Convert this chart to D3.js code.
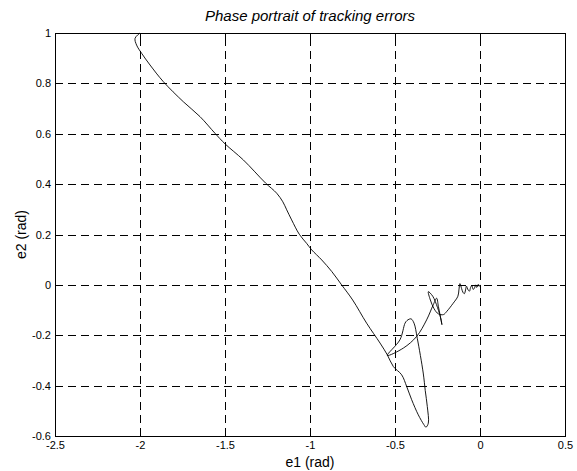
<!DOCTYPE html>
<html>
<head>
<meta charset="utf-8">
<script src="https://cdn.jsdelivr.net/npm/d3@7"></script>
<style>
  body { margin: 0; background: #fff; }
  text { font-family: Arial, 'Liberation Sans', sans-serif; fill: #000; }
</style>
</head>
<body>
<div id="chart"></div>
<script>
// tracking errors
const e1 = [
  -2.00, -2.029, -2.02, -1.99, -1.941, -1.863, -1.745, -1.647, -1.559, -1.50,
  -1.392, -1.261, -1.196, -1.160, -1.137, -1.108, -1.063, -1.020, -0.990, -0.931,
  -0.872, -0.814, -0.749, -0.667, -0.588, -0.545, -0.510, -0.461, -0.431, -0.402,
  -0.363, -0.330, -0.318, -0.304, -0.310, -0.322, -0.334, -0.369, -0.388, -0.405,
  -0.416, -0.430, -0.441, -0.471, -0.545, -0.451, -0.373, -0.314, -0.275, -0.255,
  -0.245, -0.232, -0.224, -0.230, -0.250, -0.278, -0.304, -0.292, -0.270, -0.245,
  -0.215, -0.195, -0.160, -0.130, -0.124, -0.118, -0.108, -0.100, -0.092, -0.085,
  -0.080, -0.070, -0.062, -0.055, -0.048, -0.040, -0.032, -0.026, -0.020, -0.014,
  -0.010, -0.005, 0.000
]
const e2 = [
  1.00, 0.979, 0.952, 0.919, 0.873, 0.807, 0.727, 0.668, 0.602, 0.56,
  0.496, 0.404, 0.364, 0.330, 0.298, 0.258, 0.201, 0.165, 0.139, 0.099,
  0.053, 0.000, -0.060, -0.152, -0.231, -0.278, -0.324, -0.357, -0.404, -0.456,
  -0.516, -0.555, -0.565, -0.549, -0.483, -0.420, -0.350, -0.212, -0.152, -0.135,
  -0.136, -0.142, -0.152, -0.218, -0.280, -0.251, -0.205, -0.139, -0.079, -0.053,
  -0.085, -0.130, -0.158, -0.135, -0.090, -0.045, -0.027, -0.060, -0.095, -0.115,
  -0.118, -0.105, -0.075, -0.045, -0.020, 0.005, -0.015, -0.030, -0.035, -0.020,
  -0.005, -0.020, -0.025, -0.010, -0.003, -0.018, -0.012, 0.000, -0.010, -0.005,
  0.002, -0.006, 0.000
]

const xTicks = [-2.5, -2, -1.5, -1, -0.5, 0, 0.5]
const yTicks = [-0.6, -0.4, -0.2, 0, 0.2, 0.4, 0.6, 0.8, 1]

const margin = { top: 33, right: 12, bottom: 35, left: 55 }
const width = 577 - margin.left - margin.right
const height = 471 - margin.top - margin.bottom

const svg = d3.select('#chart')
  .append('svg')
  .attr('width', 577)
  .attr('height', 471)

const g = svg.append('g')
  .attr('transform', 'translate(' + margin.left + ',' + margin.top + ')')

const x = d3.scaleLinear().domain([-2.5, 0.5]).range([0, width])
const y = d3.scaleLinear().domain([-0.6, 1]).range([height, 0])

// dashed grid
g.append('g')
  .attr('class', 'grid')
  .attr('transform', 'translate(0,' + height + ')')
  .call(d3.axisBottom(x).tickValues(xTicks.slice(1, -1)).tickSize(-height).tickFormat(''))
g.append('g')
  .attr('class', 'grid')
  .call(d3.axisLeft(y).tickValues(yTicks.slice(1, -1)).tickSize(-width).tickFormat(''))
g.selectAll('.grid .domain').remove()
g.selectAll('.grid line')
  .attr('stroke', '#000')
  .attr('stroke-width', 1)
  .attr('stroke-dasharray', '8,5')
  .attr('shape-rendering', 'crispEdges')

// the trajectory
const pts = e1.map((d, i) => [d, e2[i]])
g.append('path')
  .datum(pts)
  .attr('fill', 'none')
  .attr('stroke', '#000')
  .attr('stroke-width', 0.9)
  .attr('stroke-linejoin', 'round')
  .attr('d', d3.line().curve(d3.curveCatmullRom.alpha(0.5)).x(d => x(d[0])).y(d => y(d[1])))

const fmt = d => String(d)

// axes: ticks point inward on all four sides
g.append('g')
  .attr('transform', 'translate(0,' + height + ')')
  .call(d3.axisBottom(x).tickValues(xTicks).tickSize(-5).tickPadding(5).tickFormat(fmt))
g.append('g')
  .call(d3.axisTop(x).tickValues(xTicks).tickSize(-5).tickFormat(''))
g.append('g')
  .call(d3.axisLeft(y).tickValues(yTicks).tickSize(-5).tickPadding(4).tickFormat(fmt))
g.append('g')
  .attr('transform', 'translate(' + width + ',0)')
  .call(d3.axisRight(y).tickValues(yTicks).tickSize(-5).tickFormat(''))

g.selectAll('.domain').attr('stroke', '#000').attr('stroke-width', 1.2)
  .attr('shape-rendering', 'crispEdges')
g.selectAll('.tick line').filter(function () { return !this.closest('.grid') })
  .attr('stroke', '#000').attr('shape-rendering', 'crispEdges')
g.selectAll('.tick text').style('font-size', '11px').attr('fill', '#000')
  .style('font-family', "Arial, 'Liberation Sans', sans-serif")

// titles
svg.append('text')
  .attr('x', margin.left + width / 2)
  .attr('y', 21)
  .attr('text-anchor', 'middle')
  .style('font-size', '15px')
  .style('font-style', 'italic')
  .text('Phase portrait of tracking errors')

svg.append('text')
  .attr('x', margin.left + width / 2)
  .attr('y', 467)
  .attr('text-anchor', 'middle')
  .style('font-size', '14px')
  .text('e1 (rad)')

svg.append('text')
  .attr('transform', 'translate(26,' + (margin.top + height / 2) + ') rotate(-90)')
  .attr('text-anchor', 'middle')
  .style('font-size', '14px')
  .text('e2 (rad)')
</script>
</body>
</html>
